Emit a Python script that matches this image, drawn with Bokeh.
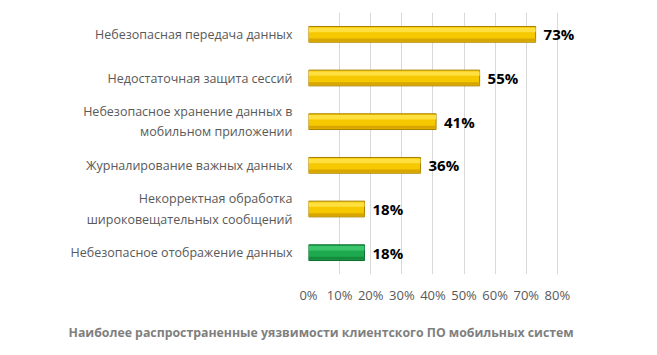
from bokeh.plotting import figure
from bokeh.models import ColumnDataSource, FactorRange, LabelSet, Title, NumeralTickFormatter, FixedTicker
from bokeh.core.properties import value
from bokeh.transform import dodge
from bokeh.embed import file_html
from bokeh.resources import INLINE

categories = [
    "Небезопасная передача данных",
    "Недостаточная защита сессий",
    "Небезопасное хранение данных в\nмобильном приложении",
    "Журналирование важных данных",
    "Некорректная обработка\nшироковещательных сообщений",
    "Небезопасное отображение данных",
]
values = [0.73, 0.55, 0.41, 0.36, 0.18, 0.18]
value_labels = ["73%", "55%", "41%", "36%", "18%", "18%"]
fill_colors = ["#F6C800", "#F6C800", "#F6C800", "#F6C800", "#F6C800", "#1DAA4E"]
light_colors = ["#FFE040", "#FFE040", "#FFE040", "#FFE040", "#FFE040", "#3CC46C"]
dark_colors = ["#D8A600", "#D8A600", "#D8A600", "#D8A600", "#D8A600", "#148A3C"]
line_colors = ["#A88000", "#A88000", "#A88000", "#A88000", "#A88000", "#0E6E30"]
x_ticks = [0, 0.1, 0.2, 0.3, 0.4, 0.5, 0.6, 0.7, 0.8]
title_text = "Наиболее распространенные уязвимости клиентского ПО мобильных систем"

source = ColumnDataSource(dict(
    cat=categories, val=values, lab=value_labels,
    fill=fill_colors, light=light_colors, dark=dark_colors, line=line_colors,
))

p = figure(width=650, height=355, output_backend="svg", toolbar_location=None,
           y_range=FactorRange(*reversed(categories)), x_range=(0, 0.9),
           min_border_left=308, min_border_right=62, min_border_top=12, min_border_bottom=40)
p.outline_line_color = None
p.background_fill_color = "white"
p.border_fill_color = "white"

# bars (layered for a bevel look)
p.hbar(y="cat", right="val", left=0, height=0.36, source=source,
       fill_color="fill", line_color="line", line_width=1)
p.hbar(y=dodge("cat", 0.1, range=p.y_range), right="val", left=0, height=0.1, source=source,
       fill_color="light", line_color=None)
p.hbar(y=dodge("cat", -0.13, range=p.y_range), right="val", left=0, height=0.07, source=source,
       fill_color="dark", line_color=None)

# y axis with category labels
ya = p.yaxis[0]
ya.axis_line_color = None
ya.major_tick_line_color = None
ya.minor_tick_line_color = None
ya.major_label_text_color = "#595959"
ya.major_label_text_font = "Open Sans"
ya.major_label_text_font_size = "12.5px"
ya.major_label_standoff = 10

# x axis
xa = p.xaxis[0]
xa.ticker = FixedTicker(ticks=x_ticks)
xa.formatter = NumeralTickFormatter(format="0%")
xa.axis_line_color = None
xa.major_tick_line_color = None
xa.minor_tick_line_color = None
xa.major_label_text_color = "#595959"
xa.major_label_text_font = "Open Sans"
xa.major_label_text_font_size = "13px"
xa.major_label_standoff = 5

p.xgrid.ticker = FixedTicker(ticks=x_ticks)
p.xgrid.grid_line_color = "#D9D9D9"
p.xgrid.grid_line_width = 1
p.ygrid.grid_line_color = None

# value labels
val_labels = LabelSet(x="val", y="cat", text="lab", source=source, x_offset=8,
                      text_align="left", text_baseline="middle",
                      text_font=value("Open Sans"), text_font_size="15px", text_font_style="bold",
                      text_color="black")
p.add_layout(val_labels)

# bottom title
p.add_layout(Title(text=title_text, align="left", offset=-240, standoff=30,
                   text_font="Open Sans", text_font_size="12.3px", text_font_style="bold",
                   text_color="#7F7F7F"), "below")

open("out.html", "w").write(file_html(p, INLINE))
